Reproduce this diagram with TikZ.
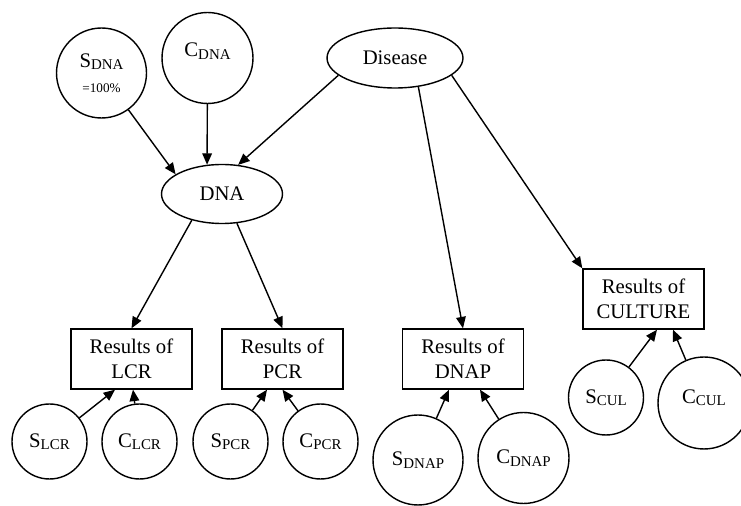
\documentclass[tikz,border=0pt]{standalone}
\usepackage{fontspec}
\setmainfont{Liberation Serif}
\usetikzlibrary{shapes.geometric,arrows.meta,positioning}
\newcommand{\sbs}[1]{\raisebox{-0.25ex}{\fontsize{8.5}{9}\selectfont #1}}

\begin{document}
\begin{tikzpicture}[x=0.02cm,y=-0.02cm,
  font=\fontsize{11.8}{14}\selectfont,
  circ/.style={draw,circle,line width=0.8pt,inner sep=0pt,align=center},
  ell/.style={draw,ellipse,line width=0.8pt,inner sep=0pt},
  res/.style={draw,rectangle,line width=0.8pt,minimum width=2.42cm,minimum height=1.2cm,align=center,inner sep=0pt},
  arr/.style={-{Triangle[length=6.5pt,width=5.5pt]},line width=0.8pt}]
\useasboundingbox (0,0) rectangle (741,506);
% Top level
\node[circ,minimum size=1.8cm] (sdna) at (101.5,73) {S\sbs{DNA}\\{\fontsize{7.5}{8}\selectfont =100\%}};
\node[circ,minimum size=1.82cm,label={[yshift=4pt]center:{C\sbs{DNA}}}] (cdna) at (207.5,58) {};
\node[ell,minimum width=2.72cm,minimum height=1.2cm] (dis) at (395,58) {Disease};
\node[ell,minimum width=2.42cm,minimum height=1.18cm] (dna) at (222,194) {DNA};
% Results
\node[res] (lcr) at (131.5,359) {Results of\\LCR};
\node[res] (pcr) at (282.5,359) {Results of\\PCR};
\node[res] (dnap) at (463,359) {Results of\\DNAP};
\node[res] (cul) at (643.5,299) {Results of\\CULTURE};
% Sensitivity and cost
\node[circ,minimum size=1.5cm] (slcr) at (49.5,441.5) {S\sbs{LCR}};
\node[circ,minimum size=1.5cm] (clcr) at (139.5,441.5) {C\sbs{LCR}};
\node[circ,minimum size=1.5cm] (spcr) at (230.5,441.5) {S\sbs{PCR}};
\node[circ,minimum size=1.5cm] (cpcr) at (320.5,441.5) {C\sbs{PCR}};
\node[circ,minimum size=1.8cm] (sdnap) at (418,460) {S\sbs{DNAP}};
\node[circ,minimum size=1.82cm] (cdnap) at (523.5,458) {C\sbs{DNAP}};
\node[circ,minimum size=1.5cm] (scul) at (606,397.5) {S\sbs{CUL}};
\node[circ,minimum size=1.84cm,label={[yshift=3pt]center:{C\sbs{CUL}}}] (ccul) at (704,403) {};
% Arrows into DNA
\draw[arr] (sdna) -- (dna.157);
\draw[arr] (cdna) -- (dna.117);
\draw[arr] (dis.-163) -- (dna.61);
% Arrows into results
\draw[arr] (dna.-139) -- (lcr.north);
\draw[arr] (dna.-63) -- (pcr.north);
\draw[arr] (dis.-51) -- (dnap.north);
\draw[arr] (dis.-17) -- (cul.north west);
\draw[arr] (slcr) -- ([xshift=-0.33cm]lcr.south);
\draw[arr] (clcr) -- ([xshift=0.03cm]lcr.south);
\draw[arr] (spcr) -- ([xshift=-0.31cm]pcr.south);
\draw[arr] (cpcr) -- (pcr.south);
\draw[arr] (sdnap) -- ([xshift=-0.28cm]dnap.south);
\draw[arr] (cdnap) -- ([xshift=0.34cm]dnap.south);
\draw[arr] (scul) -- ([xshift=0.27cm]cul.south);
\draw[arr] (ccul) -- ([xshift=0.59cm]cul.south);
\end{tikzpicture}
\end{document}
